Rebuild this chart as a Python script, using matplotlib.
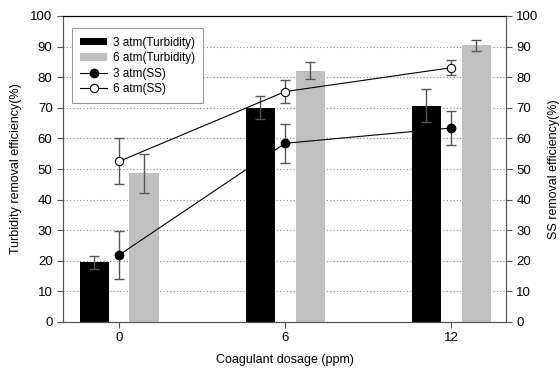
import numpy as np
import matplotlib
matplotlib.use('Agg')
import matplotlib.pyplot as plt

plt.rcParams['font.family'] = ['Liberation Sans', 'DejaVu Sans']

dosage = ['0', '6', '12']
turb_3atm = [19.5, 70.0, 70.7]
turb_3atm_err = [2.2, 3.7, 5.4]
turb_6atm = [48.6, 82.1, 90.4]
turb_6atm_err = [6.3, 2.8, 1.8]
ss_3atm = [21.9, 58.4, 63.4]
ss_3atm_err = [7.7, 6.3, 5.6]
ss_6atm = [52.5, 75.3, 83.1]
ss_6atm_err = [7.5, 3.7, 2.4]

x = np.arange(len(dosage))
w = 0.175
off = 0.15
ecol = '#555555'

fig = plt.figure(figsize=(5.6, 3.69), dpi=100)
ax = fig.add_axes([63 / 560, 1 - 322 / 369, 443 / 560, 306 / 369])

ax.bar(x - off, turb_3atm, w, color='black', label='3 atm(Turbidity)', zorder=2)
ax.bar(x + off, turb_6atm, w, color='#c0c0c0', label='6 atm(Turbidity)', zorder=2)
ax.errorbar(x - off, turb_3atm, yerr=turb_3atm_err, fmt='none', ecolor=ecol,
            elinewidth=1, capsize=3.5, capthick=1, zorder=3)
ax.errorbar(x + off, turb_6atm, yerr=turb_6atm_err, fmt='none', ecolor=ecol,
            elinewidth=1, capsize=3.5, capthick=1, zorder=3)

ax2 = ax.twinx()
ax2.errorbar(x, ss_3atm, yerr=ss_3atm_err, fmt='none', ecolor=ecol,
             elinewidth=1, capsize=3.5, capthick=1, zorder=3)
ax2.errorbar(x, ss_6atm, yerr=ss_6atm_err, fmt='none', ecolor=ecol,
             elinewidth=1, capsize=3.5, capthick=1, zorder=3)
l1, = ax2.plot(x, ss_3atm, '-o', color='black', lw=0.8, ms=6,
               mfc='black', mec='black', label='3 atm(SS)', zorder=4)
l2, = ax2.plot(x, ss_6atm, '-o', color='black', lw=0.8, ms=6,
               mfc='white', mec='black', mew=0.8, label='6 atm(SS)', zorder=4)

for a in (ax, ax2):
    a.set_ylim(0, 100)
    a.set_yticks(range(0, 101, 10))
    a.set_xlim(-0.338, 2.33)
    a.tick_params(labelsize=9.5, length=4, width=0.8, color='#555555')
    for s in a.spines.values():
        s.set_linewidth(0.8)
    a.spines['left'].set_color('#555555')
    a.spines['right'].set_color('#555555')
    a.spines['bottom'].set_color('#555555')
    a.spines['top'].set_color('black')

ax.set_xticks(x)
ax.set_xticklabels(dosage)
ax.yaxis.grid(True, linestyle=(0, (1, 2)), color='#888888', lw=0.8)
ax.set_axisbelow(True)

ax.set_ylabel('Turbidity removal efficiency(%)', fontsize=9, labelpad=6)
ax2.set_ylabel('SS removal efficiency(%)', fontsize=9, labelpad=7)
ax.set_xlabel('Coagulant dosage (ppm)', fontsize=9, labelpad=7)

h1, lab1 = ax.get_legend_handles_labels()
leg = ax2.legend(h1 + [l1, l2], lab1 + ['3 atm(SS)', '6 atm(SS)'],
                 loc='upper left', bbox_to_anchor=(0.02, 0.96), fontsize=8.5,
                 fancybox=False, framealpha=1, edgecolor='#999999',
                 handlelength=2.3, handleheight=0.6, handletextpad=0.45,
                 labelspacing=0.3, borderpad=0.7, borderaxespad=0)
leg.get_frame().set_linewidth(0.8)

fig.savefig('out.png', dpi=100)
